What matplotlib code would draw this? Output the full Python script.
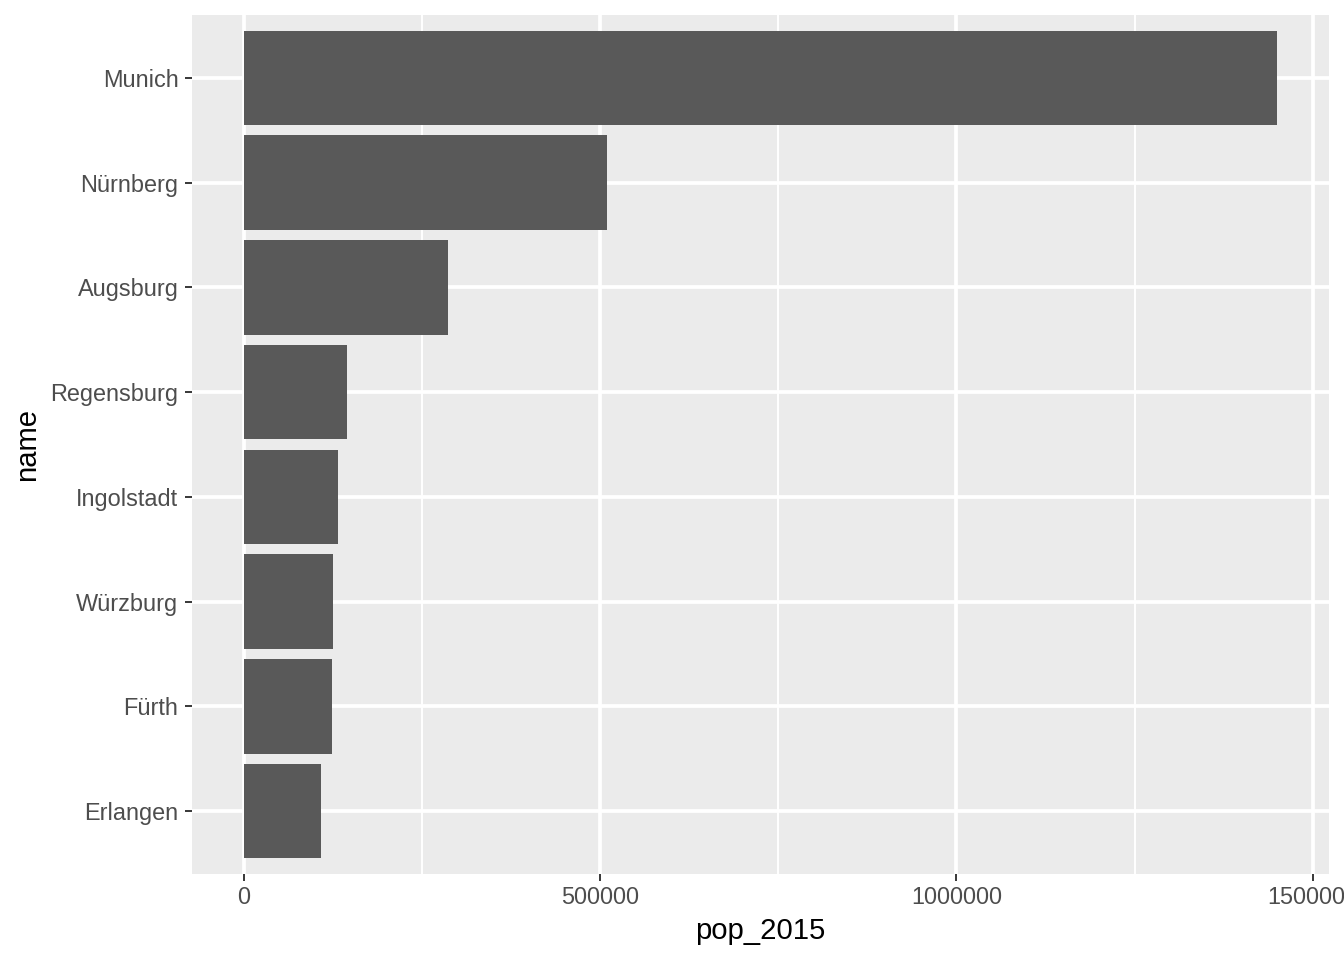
import matplotlib
matplotlib.use("Agg")
import matplotlib.pyplot as plt
import numpy as np

# Bavarian cities, population 2015
names = ["Munich", "Nürnberg", "Augsburg", "Regensburg",
         "Ingolstadt", "Würzburg", "Fürth", "Erlangen"]
pop_2015 = [1450381, 509975, 286374, 145465, 132438, 124873, 124171, 108336]

plt.rcParams['font.family'] = ['Liberation Sans', 'DejaVu Sans']

fig = plt.figure(figsize=(13.44, 9.6), dpi=100)
ax = fig.add_axes([192/1344, (960-874)/960, (1329-192)/1344, (874-15)/960])

# ggplot-like: first category on top
ypos = np.arange(len(names))[::-1] + 1
ax.barh(ypos, pop_2015, height=0.9, color='#595959', zorder=3)

ax.set_facecolor('#EBEBEB')
xmax = max(pop_2015)
ax.set_xlim(-0.05*xmax, 1.05*xmax)
ax.set_ylim(0.4, len(names) + 0.6)

ax.set_xticks([0, 500000, 1000000, 1500000])
ax.set_xticklabels(['0', '500000', '1000000', '1500000'])
ax.set_xticks([250000, 750000, 1250000], minor=True)
ax.set_yticks(ypos)
ax.set_yticklabels(names)

ax.grid(which='major', color='white', linewidth=2.7, zorder=1)
ax.grid(which='minor', axis='x', color='white', linewidth=1.37, zorder=1)
ax.set_axisbelow(True)

for s in ax.spines.values():
    s.set_visible(False)

ax.tick_params(axis='both', which='major', length=5.3, width=1.37,
               color='#333333', labelsize=16.9, labelcolor='#4D4D4D', pad=3)
ax.tick_params(axis='y', which='major', pad=4.5)
ax.tick_params(axis='both', which='minor', length=0)

ax.set_xlabel('pop_2015', fontsize=21.1, color='black', labelpad=6)
ax.set_ylabel('name', fontsize=21.1, color='black', labelpad=7)

fig.savefig('out.png', dpi=100)
